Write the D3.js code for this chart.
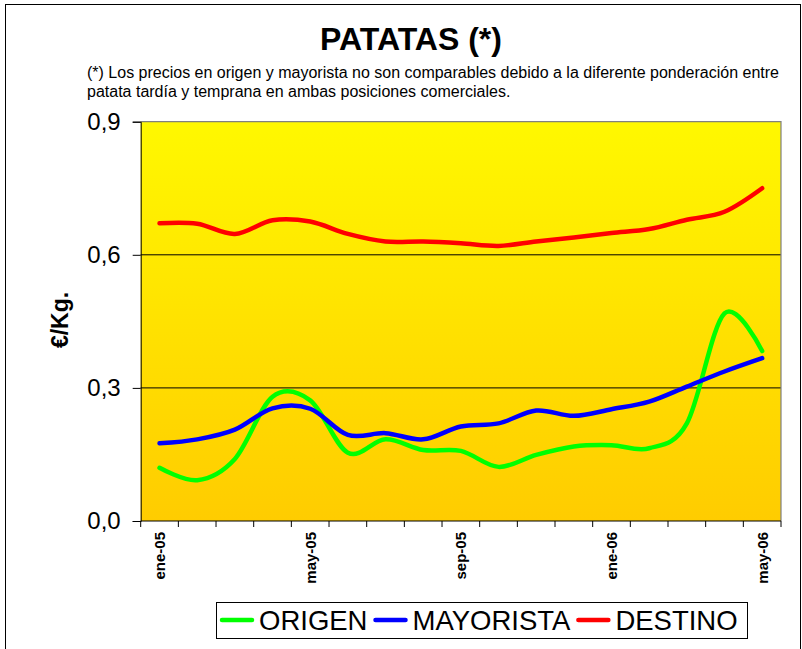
<!DOCTYPE html>
<html>
<head>
<meta charset="utf-8">
<script src="https://cdn.jsdelivr.net/npm/d3@7"></script>
<style>
  html, body { margin: 0; padding: 0; background: #fff; }
  svg { display: block; font-family: "Liberation Sans", Arial, sans-serif; }
</style>
</head>
<body>
<svg id="chart" width="802" height="649"></svg>
<script>
// Monthly prices, €/Kg.
const meses = ["ene-05","feb-05","mar-05","abr-05","may-05","jun-05","jul-05","ago-05",
               "sep-05","oct-05","nov-05","dic-05","ene-06","feb-06","mar-06","abr-06","may-06"];
const origen    = [0.120, 0.092, 0.140, 0.280, 0.272, 0.154, 0.184, 0.160, 0.158,
                   0.122, 0.149, 0.168, 0.171, 0.164, 0.220, 0.468, 0.383];
const mayorista = [0.175, 0.184, 0.206, 0.254, 0.253, 0.194, 0.198, 0.184, 0.213,
                   0.220, 0.249, 0.237, 0.252, 0.269, 0.303, 0.337, 0.367];
const destino   = [0.671, 0.670, 0.647, 0.678, 0.675, 0.647, 0.630, 0.630, 0.626,
                   0.620, 0.630, 0.639, 0.649, 0.658, 0.679, 0.697, 0.750];
const yTicks = [0, 0.3, 0.6, 0.9];
const xLabels = ["ene-05","may-05","sep-05","ene-06","may-06"];

const series = [
  { name: "ORIGEN",    values: origen,    color: "#00ff00" },
  { name: "MAYORISTA", values: mayorista, color: "#0000ff" },
  { name: "DESTINO",   values: destino,   color: "#ff0000" }
];

const svg = d3.select("#chart");
const plot = { left: 140.7, right: 781, top: 121.7, bottom: 521 };

// Outer frame
svg.append("rect").attr("x", 5.5).attr("y", 4.5).attr("width", 795).attr("height", 700)
  .attr("fill", "none").attr("stroke", "#000").attr("stroke-width", 1);

// Titles
svg.append("text").attr("x", 411).attr("y", 50).attr("text-anchor", "middle")
  .attr("font-size", 32).attr("font-weight", "bold").text("PATATAS (*)");
const sub = svg.append("text").attr("font-size", 16);
sub.append("tspan").attr("x", 87).attr("y", 78)
  .text("(*) Los precios en origen y mayorista no son comparables debido a la diferente ponderación entre");
sub.append("tspan").attr("x", 87).attr("y", 97)
  .text("patata tardía y temprana en ambas posiciones comerciales.");

// Scales
const x = d3.scalePoint().domain(meses).range([plot.left, plot.right]).padding(0.5);
const xb = d3.scaleBand().domain(meses).range([plot.left, plot.right]);
const y = d3.scaleLinear().domain([0, 0.9]).range([plot.bottom, plot.top]);

// Plot background gradient
const defs = svg.append("defs");
const grad = defs.append("linearGradient").attr("id", "bg").attr("x1", 0).attr("y1", 0).attr("x2", 0).attr("y2", 1);
grad.append("stop").attr("offset", "0%").attr("stop-color", "#fff800");
grad.append("stop").attr("offset", "100%").attr("stop-color", "#ffcc00");
svg.append("rect").attr("x", plot.left).attr("y", plot.top)
  .attr("width", plot.right - plot.left).attr("height", plot.bottom - plot.top)
  .attr("fill", "url(#bg)");

// Gridlines
svg.append("g").selectAll("line").data(yTicks.filter(d => d > 0 && d < 0.9)).join("line")
  .attr("x1", plot.left).attr("x2", plot.right)
  .attr("y1", d => y(d)).attr("y2", d => y(d))
  .attr("stroke", "#000").attr("stroke-width", 1);

// Plot frame: top and right in grey
svg.append("path")
  .attr("d", `M${plot.left},${plot.top}H${plot.right}V${plot.bottom}`)
  .attr("fill", "none").attr("stroke", "#808080").attr("stroke-width", 1.2);

// Y axis
const yAxis = svg.append("g").attr("transform", `translate(${plot.left},0)`)
  .call(d3.axisLeft(y).tickValues(yTicks).tickSize(8).tickPadding(12)
    .tickFormat(d => d.toFixed(1).replace(".", ",")));
yAxis.select(".domain").attr("stroke", "#000");
yAxis.selectAll("text").attr("font-size", 24).attr("font-family", "Liberation Sans, Arial, sans-serif").attr("fill", "#000");

svg.append("text").attr("transform", `translate(68,320) rotate(-90)`)
  .attr("text-anchor", "middle").attr("font-size", 23).attr("font-weight", "bold").text("€/Kg.");

// X axis: category boundaries as ticks
const xAxis = svg.append("g");
xAxis.append("line").attr("x1", plot.left).attr("x2", plot.right)
  .attr("y1", plot.bottom).attr("y2", plot.bottom).attr("stroke", "#000");
const bounds = meses.map(m => xb(m)).concat([xb(meses[meses.length - 1]) + xb.bandwidth()]);
xAxis.selectAll("line.tick").data(bounds).join("line").attr("class", "tick")
  .attr("x1", d => d).attr("x2", d => d)
  .attr("y1", plot.bottom).attr("y2", plot.bottom + 6).attr("stroke", "#000");
xAxis.selectAll("text").data(xLabels).join("text")
  .attr("transform", d => `translate(${x(d) + 5.5},${plot.bottom + 11}) rotate(-90)`)
  .attr("text-anchor", "end").attr("font-size", 15).attr("font-weight", "bold").text(d => d);

// Smoothed series lines
const line = d3.line().x((d, i) => x(meses[i])).y(d => y(d)).curve(d3.curveCatmullRom.alpha(0));
svg.append("g").selectAll("path").data(series).join("path")
  .attr("d", d => line(d.values))
  .attr("fill", "none").attr("stroke", d => d.color).attr("stroke-width", 4.5)
  .attr("stroke-linecap", "round").attr("stroke-linejoin", "round");

// Legend
const legend = svg.append("g");
legend.append("rect").attr("x", 216.5).attr("y", 602.5).attr("width", 531).attr("height", 36)
  .attr("fill", "#fff").attr("stroke", "#000").attr("stroke-width", 1);
let lx = 222;
series.forEach(s => {
  legend.append("line").attr("x1", lx).attr("x2", lx + 30).attr("y1", 620).attr("y2", 620)
    .attr("stroke", s.color).attr("stroke-width", 4.5).attr("stroke-linecap", "round");
  const t = legend.append("text").attr("x", lx + 37).attr("y", 630).attr("font-size", 27.5).text(s.name);
  lx += 37 + t.node().getComputedTextLength() + 8;
});
</script>
</body>
</html>
